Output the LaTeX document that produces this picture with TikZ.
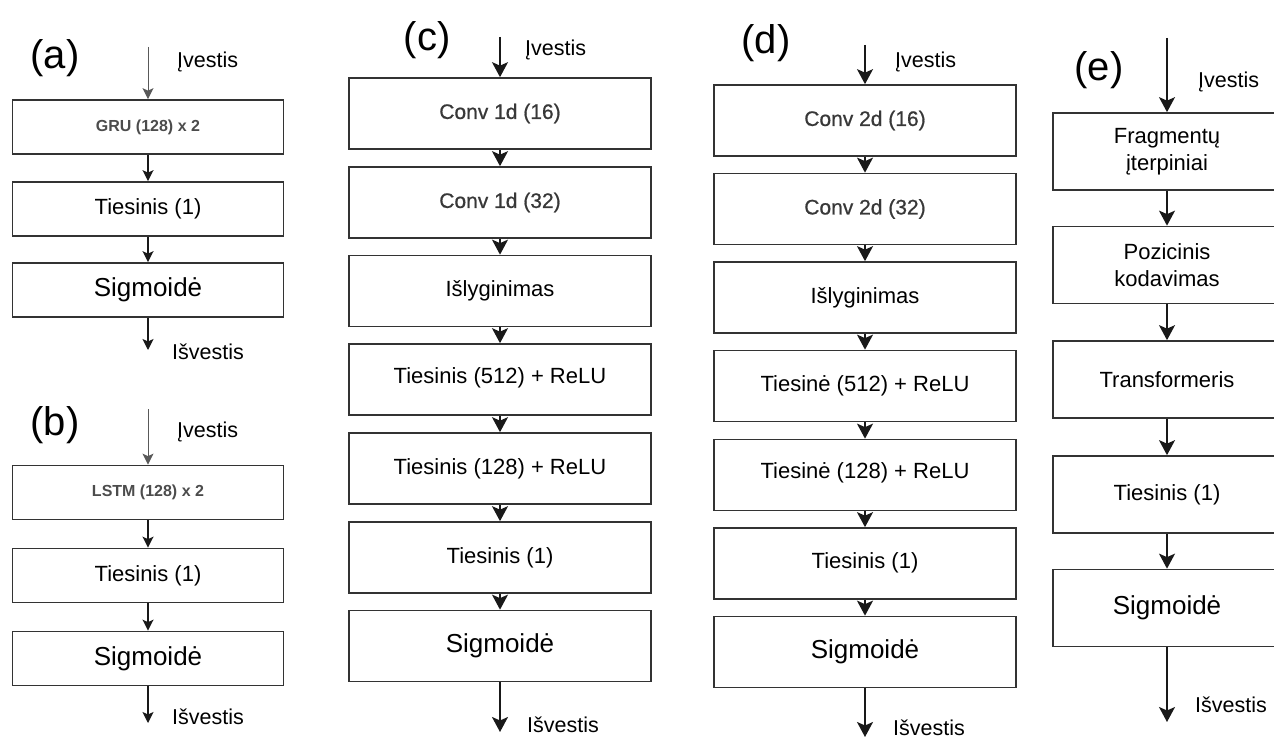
\documentclass[tikz,border=0pt]{standalone}
\usepackage{fontspec}
\setmainfont{Liberation Sans}
\newfontfamily\semisans[FakeBold=0.7]{Liberation Sans}
\usetikzlibrary{arrows.meta}
\begin{document}
\begin{tikzpicture}[x=1pt,y=-1pt,
  blk/.style={draw=black!80, line width=1.7pt, inner sep=0pt, align=center,
              font=\fontsize{22}{26.5}\selectfont},
  boxab/.style={blk, minimum width=271pt, minimum height=54pt},
  boxcd/.style={blk, minimum width=302pt, minimum height=71pt},
  boxe/.style={blk, minimum width=228pt, minimum height=77pt},
  sig/.style={font=\fontsize{26}{30}\selectfont},
  arc/.style={font=\semisans\fontsize{21}{25}\selectfont, text=black!78},
  rnn/.style={font=\bfseries\fontsize{16}{20}\selectfont, text=black!70},
  tag/.style={font=\fontsize{40}{44}\selectfont, inner sep=0pt},
  io/.style={font=\fontsize{21.5}{26}\selectfont, inner sep=0pt, anchor=west},
  flow/.style={-{Stealth[length=15pt,width=16pt,inset=3.5pt]}, line width=1.7pt, draw=black!90},
  flowab/.style={-{Stealth[length=11pt,width=11pt,inset=2.5pt]}, line width=1.4pt, draw=black!90},
  inab/.style={-{Stealth[length=11pt,width=11pt,inset=2.5pt]}, line width=1pt, draw=black!65},
]
\useasboundingbox (0,0) rectangle (1274,738);
\fill[white] (0,0) rectangle (1274,738);
\clip (0,0) rectangle (1274,738);

% ---------- (a) GRU ----------
\node[tag] (ta) at (55,58) {(a)};
\coordinate (ain) at (148,47);
\coordinate (aout) at (148,350);
\node[boxab, rnn] (a1) at (148,127) {GRU (128) x 2};
\node[boxab] (a2) at (148,209) {Tiesinis (1)};
\node[boxab, sig] (a3) at (148,290) {Sigmoidė};
\node[io] (ai) at (177,62) {Įvestis};
\node[io] (ao) at (172,352) {Išvestis};
\draw[inab] (ain) -- (a1.north);
\draw[flowab] (a1) -- (a2);
\draw[flowab] (a2) -- (a3);
\draw[flowab] (a3) -- (aout);

% ---------- (b) LSTM ----------
\node[tag] (tb) at (55,425) {(b)};
\coordinate (bin) at (148,409);
\coordinate (bout) at (148,723);
\node[boxab, rnn] (b1) at (148,492.5) {LSTM (128) x 2};
\node[boxab] (b2) at (148,575.5) {Tiesinis (1)};
\node[boxab, sig] (b3) at (148,658.5) {Sigmoidė};
\node[io] (bi) at (177,432) {Įvestis};
\node[io] (bo) at (172,717) {Išvestis};
\draw[inab] (bin) -- (b1.north);
\draw[flowab] (b1) -- (b2);
\draw[flowab] (b2) -- (b3);
\draw[flowab] (b3) -- (bout);

% ---------- (c) Conv 1d ----------
\node[tag] (tc) at (427,40) {(c)};
\coordinate (cin) at (500,37);
\coordinate (cout) at (500,732);
\node[boxcd, arc] (c1) at (500,113.5) {Conv 1d (16)};
\node[boxcd, arc] (c2) at (500,202.5) {Conv 1d (32)};
\node[boxcd] (c3) at (500,291) {\raisebox{5pt}{Išlyginimas}};
\node[boxcd] (c4) at (500,379.5) {\raisebox{7pt}{Tiesinis (512) + ReLU}};
\node[boxcd] (c5) at (500,468.5) {\raisebox{4pt}{Tiesinis (128) + ReLU}};
\node[boxcd] (c6) at (500,557.5) {Tiesinis (1)};
\node[boxcd, sig] (c7) at (500,646) {\raisebox{3pt}{Sigmoidė}};
\node[io] (ci) at (525,50) {Įvestis};
\node[io] (co) at (527,725) {Išvestis};
\draw[flow] (cin) -- (c1.north);
\foreach \i/\j in {1/2,2/3,3/4,4/5,5/6,6/7}
  \draw[flow] (c\i) -- (c\j);
\draw[flow] (c7) -- (cout);

% ---------- (d) Conv 2d ----------
\node[tag] (td) at (766,43) {(d)};
\coordinate (din) at (865,45);
\coordinate (dout) at (865,737);
\node[boxcd, arc] (d1) at (865,120.5) {\raisebox{4pt}{Conv 2d (16)}};
\node[boxcd, arc] (d2) at (865,209) {\raisebox{4pt}{Conv 2d (32)}};
\node[boxcd] (d3) at (865,297.5) {Išlyginimas};
\node[boxcd] (d4) at (865,386) {\raisebox{5pt}{Tiesinė (512) + ReLU}};
\node[boxcd] (d5) at (865,475) {\raisebox{8pt}{Tiesinė (128) + ReLU}};
\node[boxcd] (d6) at (865,563.5) {\raisebox{5pt}{Tiesinis (1)}};
\node[boxcd, sig] (d7) at (865,652) {Sigmoidė};
\node[io] (di) at (895,62) {Įvestis};
\node[io] (do) at (893,728) {Išvestis};
\draw[flow] (din) -- (d1.north);
\foreach \i/\j in {1/2,2/3,3/4,4/5,5/6,6/7}
  \draw[flow] (d\i) -- (d\j);
\draw[flow] (d7) -- (dout);

% ---------- (e) Transformer ----------
\node[tag] (te) at (1099,70) {(e)};
\coordinate (ein) at (1167,38);
\coordinate (eout) at (1167,722);
\node[boxe] (e1) at (1167,151.5) {Fragmentų\\įterpiniai};
\node[boxe] (e2) at (1167,265) {Pozicinis\\kodavimas};
\node[boxe] (e3) at (1167,379.5) {Transformeris};
\node[boxe] (e4) at (1167,494.5) {Tiesinis (1)};
\node[boxe, sig] (e5) at (1167,608) {Sigmoidė};
\node[io] (ei) at (1198,82) {Įvestis};
\node[io] (eo) at (1195,705) {Išvestis};
\draw[flow] (ein) -- (e1.north);
\foreach \i/\j in {1/2,2/3,3/4,4/5}
  \draw[flow] (e\i) -- (e\j);
\draw[flow] (e5) -- (eout);
\end{tikzpicture}
\end{document}
